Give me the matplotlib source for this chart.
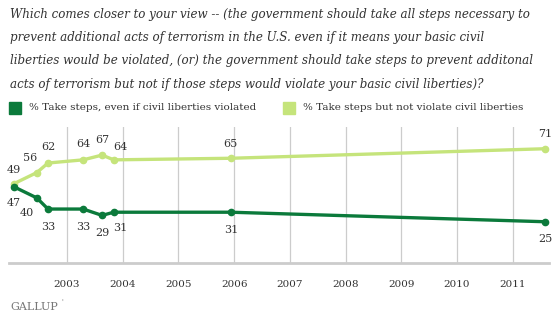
import matplotlib
matplotlib.use("Agg")
import matplotlib.pyplot as plt
from matplotlib.patches import Rectangle

# Data (decimal years)
dates = [2002.05, 2002.46, 2002.66, 2003.29, 2003.63, 2003.84, 2005.94, 2011.58]
violate = [47, 40, 33, 33, 29, 31, 31, 25]
not_violate = [49, 56, 62, 64, 67, 64, 65, 71]
years = [2003, 2004, 2005, 2006, 2007, 2008, 2009, 2010, 2011]
legend_labels = ["% Take steps, even if civil liberties violated",
                 "% Take steps but not violate civil liberties"]
title = ("Which comes closer to your view -- (the government should take all steps necessary to\n"
         "prevent additional acts of terrorism in the U.S. even if it means your basic civil\n"
         "liberties would be violated, (or) the government should take steps to prevent additonal\n"
         "acts of terrorism but not if those steps would violate your basic civil liberties)?")

dark = "#0b7a3b"
light = "#c5e47b"
serif = ["DejaVu Serif"]

W, H = 557, 326
fig = plt.figure(figsize=(W / 100, H / 100), dpi=100)
ax = fig.add_axes([9 / W, (H - 263) / H, 540 / W, 136 / H])

ax.set_xlim(2001.96, 2011.65)
ax.set_ylim(-1, 84.7)
for y in years:
    ax.axvline(y, color="#cccccc", lw=0.9, zorder=0)
for s in ["top", "left", "right"]:
    ax.spines[s].set_visible(False)
ax.spines["bottom"].set_color("#cccccc")
ax.spines["bottom"].set_linewidth(2)
ax.set_yticks([])
ax.set_xticks(years)
ax.set_xticklabels([str(y) for y in years], family=serif, fontsize=7.5, color="#333333")
ax.tick_params(axis="x", length=0, pad=12)

ax.plot(dates, not_violate, color=light, lw=2.4, marker="o", ms=4.5, zorder=3, clip_on=False)
ax.plot(dates, violate, color=dark, lw=2.4, marker="o", ms=4.5, zorder=4, clip_on=False)

# data labels (offsets in points)
lab_off_light = [(0, 6), (-5, 7), (0, 8), (0, 8), (0, 7), (5, 6), (0, 7), (0, 7)]
lab_off_dark = [(0, -8), (-7, -7), (0, -9), (0, -9), (0, -9), (5, -8), (0, -9), (0, -9)]
for x, v, o in zip(dates, not_violate, lab_off_light):
    ax.annotate(str(v), (x, v), xytext=o, textcoords="offset points", ha="center", va="bottom",
                family=serif, fontsize=8, color="#333333")
for x, v, o in zip(dates, violate, lab_off_dark):
    ax.annotate(str(v), (x, v), xytext=o, textcoords="offset points", ha="center", va="top",
                family=serif, fontsize=8, color="#333333")

# title
fig.text(10 / W, 1 - 8 / H, title, family=serif, style="italic", fontsize=8.6, color="#333333",
         va="top", ha="left", linespacing=2.02)

# legend
for (x0, tx), lab, c in zip([(9, 29), (283, 303)], legend_labels, [dark, light]):
    fig.patches.append(Rectangle((x0 / W, 1 - 114 / H), 12 / W, 12 / H, transform=fig.transFigure,
                                 color=c, figure=fig))
    fig.text(tx / W, 1 - 108 / H, lab, family=serif, fontsize=7.5, color="#333333", va="center", ha="left")

fig.text(10 / W, 1 - 307 / H, "GALLUP", family=serif, fontsize=8, color="#777777", va="center", ha="left")
fig.text(61 / W, 1 - 302 / H, "'", family=serif, fontsize=5, color="#777777", va="center", ha="left")

fig.savefig("out.png", dpi=100, facecolor="white")
